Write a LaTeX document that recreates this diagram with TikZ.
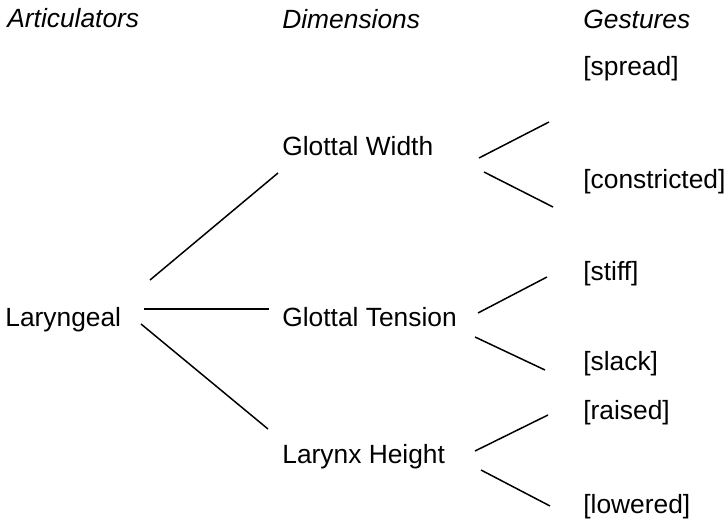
\documentclass[tikz,border=0pt]{standalone}
\usepackage{fontspec}
\setmainfont{Liberation Sans}
\tikzset{
    lbl/.style={anchor=base west,inner sep=0pt,font=\fontsize{15}{18}\selectfont},
    hdr/.style={lbl,font=\fontsize{15}{18}\selectfont\itshape},
    link/.style={black,line width=0.85pt}
}

\begin{document}
\begin{tikzpicture}[x=0.2mm,y=-0.2mm]
    \useasboundingbox (0,0) rectangle (725,523);
    % column heads
    \node [hdr] (art) at (7,27) {Articulators};
    \node [hdr] (dim) at (282,28) {Dimensions};
    \node [hdr] (ges) at (583,28) {Gestures};
    % tree
    \node [lbl] (lar) at (5,326) {Laryngeal};
    \node [lbl] (gw) at (282,155) {Glottal Width};
    \node [lbl] (gt) at (282,326) {Glottal Tension};
    \node [lbl] (lh) at (282,463) {Larynx Height};
    \node [lbl] (spread) at (583,75) {[spread]};
    \node [lbl] (constr) at (583,188) {[constricted]};
    \node [lbl] (stiff) at (583,280) {[stiff]};
    \node [lbl] (slack) at (583,370) {[slack]};
    \node [lbl] (raised) at (583,419) {[raised]};
    \node [lbl] (lowered) at (583,513) {[lowered]};
    % line ends
    \coordinate (lar-gw) at (150,280);  \coordinate (gw-lar) at (278,173);
    \coordinate (lar-gt) at (144,309);  \coordinate (gt-lar) at (269,309);
    \coordinate (lar-lh) at (141,324);  \coordinate (lh-lar) at (268,429);
    \coordinate (gw-up) at (479,158);   \coordinate (up-gw) at (549,122);
    \coordinate (gw-dn) at (484,172);   \coordinate (dn-gw) at (553,207);
    \coordinate (gt-up) at (478,313);   \coordinate (up-gt) at (547,277);
    \coordinate (gt-dn) at (475,337);   \coordinate (dn-gt) at (545,370);
    \coordinate (lh-up) at (475,451);   \coordinate (up-lh) at (548,415);
    \coordinate (lh-dn) at (481,470);   \coordinate (dn-lh) at (550,506);
    \draw [link] (lar-gw) -- (gw-lar);
    \draw [link] (lar-gt) -- (gt-lar);
    \draw [link] (lar-lh) -- (lh-lar);
    \draw [link] (gw-up) -- (up-gw);
    \draw [link] (gw-dn) -- (dn-gw);
    \draw [link] (gt-up) -- (up-gt);
    \draw [link] (gt-dn) -- (dn-gt);
    \draw [link] (lh-up) -- (up-lh);
    \draw [link] (lh-dn) -- (dn-lh);
\end{tikzpicture}
\end{document}
